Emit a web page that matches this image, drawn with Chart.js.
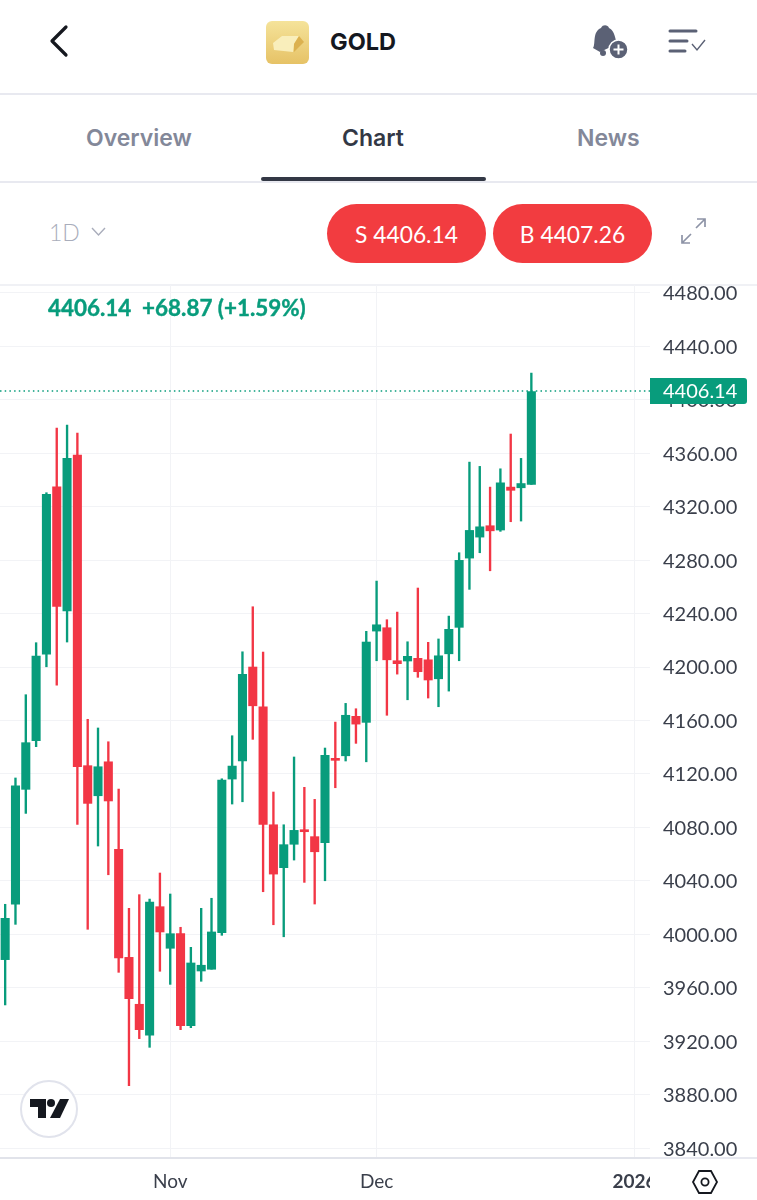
<!DOCTYPE html>
<html>
<head>
<meta charset="utf-8">
<title>GOLD</title>
<script src="https://cdn.jsdelivr.net/npm/chart.js@4"></script>
<style>
  * { box-sizing: border-box; }
  html, body { margin: 0; padding: 0; background: #fff; }
  body { position: relative; width: 757px; height: 1200px; overflow: hidden; font-family: Inter, "Noto Sans", sans-serif; }
  .abs { position: absolute; }
  .rule { position: absolute; left: 0; width: 757px; height: 2px; background: #e8e9f0; }
  .title { left: 330px; top: 28px; font-size: 23.5px; font-weight: 700; color: #15181f; line-height: 28px; }
  .tab { top: 124px; font-size: 23px; font-weight: 600; line-height: 28px; color: #838899; }
  .tab.active { color: #333845; }
  .underline { left: 261px; top: 177px; width: 225px; height: 4px; border-radius: 2px; background: #333845; }
  .pill { top: 204px; width: 159px; height: 59px; border-radius: 30px; background: #f23c40; color: #fff; font-family: Lato, sans-serif; font-size: 22.8px; line-height: 60px; text-align: center; }
  .period { left: 49px; top: 219px; font-family: Lato, sans-serif; font-size: 23px; font-weight: 300; line-height: 26px; color: #a9adbb; }
  .quote { left: 48px; top: 295px; font-family: Lato, sans-serif; font-size: 22.4px; font-weight: 700; -webkit-text-stroke: 0.4px #089c7c; color: #089c7c; line-height: 26px; white-space: pre; }
  #chartBox { position: absolute; left: 0; top: 285px; width: 757px; height: 915px; }
  .corner { left: 650px; top: 1160px; width: 107px; height: 40px; background: #fff; }
  .tvbadge { left: 20px; top: 1080px; width: 58px; height: 58px; border-radius: 50%; background: #fff; border: 2px solid #e1e3ec; }
</style>
</head>
<body>
<svg class="abs" style="left:46px;top:24px" width="26" height="34" viewBox="0 0 26 34"><path d="M20 3 L6 17 L20 31" fill="none" stroke="#15181f" stroke-width="3.2" stroke-linecap="round" stroke-linejoin="round"/></svg>
<svg class="abs" style="left:266px;top:21px" width="43" height="43" viewBox="0 0 43 43">
  <defs><linearGradient id="gold" x1="0" y1="0" x2="0" y2="1"><stop offset="0" stop-color="#f5e39a"/><stop offset="1" stop-color="#e6c266"/></linearGradient></defs>
  <rect width="43" height="43" rx="6" fill="url(#gold)"/>
  <path d="M7 22 L16 15 L33 15 L28 23 L27 31 L8 29 Z" fill="#f9eebb"/>
  <path d="M33 15 L38 21 L28 31 L28 23 Z" fill="#dcb14f"/>
</svg>
<div class="abs title">GOLD</div>
<svg class="abs" style="left:590px;top:24px" width="40" height="36" viewBox="0 0 40 36">
  <path d="M3 24 C6 20 2 8 11 4 C13 0 18 1 19 4 C25 7 25 15 27 20 L10 28 Z" fill="#5b6175"/>
  <circle cx="13" cy="29" r="3" fill="#5b6175"/>
  <circle cx="28.5" cy="25.5" r="9.5" fill="#5b6175" stroke="#fff" stroke-width="1.5"/>
  <path d="M28.5 20.5 V30.5 M23.5 25.5 H33.5" stroke="#fff" stroke-width="2"/>
</svg>
<svg class="abs" style="left:667px;top:28px" width="40" height="28" viewBox="0 0 40 28">
  <path d="M3 3 H29 M3 13 H20 M3 23 H18" stroke="#5b6175" stroke-width="3" stroke-linecap="round"/>
  <path d="M25 16 L30 22 L38 12" fill="none" stroke="#5b6175" stroke-width="1.4"/>
</svg>
<div class="rule" style="top:93px"></div>
<div class="abs tab" style="left:86px">Overview</div>
<div class="abs tab active" style="left:342px">Chart</div>
<div class="abs tab" style="left:577px">News</div>
<div class="rule" style="top:181px"></div>
<div class="abs underline"></div>
<div class="abs period">1D</div>
<svg class="abs" style="left:91px;top:227px" width="15" height="10" viewBox="0 0 15 10"><path d="M1 1 L7.5 8 L14 1" fill="none" stroke="#a9adbb" stroke-width="1.4"/></svg>
<div class="abs pill" style="left:327px">S 4406.14</div>
<div class="abs pill" style="left:493px">B 4407.26</div>
<svg class="abs" style="left:680px;top:217px" width="27" height="28" viewBox="0 0 27 28">
  <path d="M16 11 L25 2 M17 2 H25 V10 M11 17 L2 26 M2 18 V26 H10" fill="none" stroke="#8d93a6" stroke-width="1.7"/>
</svg>
<div class="rule" style="top:284px;background:#f0f1f5"></div>
<div id="chartBox"><canvas id="goldChart"></canvas></div>
<div class="abs quote">4406.14  +68.87 (+1.59%)</div>
<div class="abs tvbadge"></div>
<svg class="abs" style="left:30px;top:1099px" width="39" height="20" viewBox="0 0 39 20" fill="#15181f">
  <path d="M0 0 H16 V19 H8 V8 H0 Z"/><circle cx="21" cy="4" r="4"/><path d="M30 0 H39 L30 19 H20 Z"/>
</svg>
<div class="rule" style="top:1157px;left:650px;width:107px;background:#e8e9f0"></div>
<div class="abs corner"></div>
<svg class="abs" style="left:691px;top:1168px" width="28" height="28" viewBox="0 0 28 28">
  <path d="M8 3 H20 L26 14 L20 25 H8 L2 14 Z" fill="none" stroke="#15181f" stroke-width="1.8"/>
  <circle cx="14" cy="14" r="3.6" fill="none" stroke="#15181f" stroke-width="1.8"/>
</svg>
<script>
const green = '#089c7c';
const red = '#f23645';
const gridColor = '#f2f3f6';
const axisFont = 'Lato, "Noto Sans", sans-serif';

const categories = [
  '10-10', '10-13', '10-14', '10-15', '10-16', '10-17', '10-20', '10-21', '10-22', '10-23', '10-24',
  '10-27', '10-28', '10-29', '10-30', '10-31', '11-03', '11-04', '11-05', '11-06', '11-07',
  '11-10', '11-11', '11-12', '11-13', '11-14', '11-17', '11-18', '11-19', '11-20', '11-21',
  '11-24', '11-25', '11-26', '11-27', '11-28', '12-01', '12-02', '12-03', '12-04', '12-05',
  '12-08', '12-09', '12-10', '12-11', '12-12', '12-15', '12-16', '12-17', '12-18', '12-19', '12-22',
  '12-23', '12-24', '12-25', '12-26', '12-29', '12-30', '12-31', '01-01', '01-02', '01-05', '01-06'
];

const opens = [
  3981.1, 4022.5, 4108.5, 4144.9, 4209.7, 4334.9, 4241.9, 4358.6, 4126.2, 4103.7, 4129.1,
  4063.6, 3982.8, 3947.7, 3924.5, 4020.7, 3989.6, 4000.5, 3931.7, 3972.6, 3973.9,
  4001.2, 4116.2, 4129.7, 4200.0, 4170.3, 4082.0, 4049.9, 4067.4, 4078.1, 4073.1,
  4068.6, 4131.7, 4133.6, 4163.1, 4158.6, 4226.9, 4229.4, 4204.7, 4204.5, 4206.5,
  4205.4, 4191.2, 4209.9, 4229.7, 4281.5, 4297.2, 4305.7, 4302.5, 4334.6, 4334.1, 4336.6
];
const highs = [
  4022.5, 4117.0, 4179.3, 4218.2, 4330.4, 4378.8, 4381.0, 4375.0, 4160.9, 4154.4, 4144.1,
  4108.7, 4019.5, 4029.7, 4026.4, 4045.9, 4030.2, 4005.3, 3990.3, 4019.5, 4027.0,
  4116.4, 4148.6, 4211.4, 4245.1, 4211.2, 4106.5, 4082.0, 4132.7, 4110.0, 4101.0,
  4139.4, 4158.8, 4172.8, 4168.8, 4226.7, 4264.3, 4235.4, 4241.1, 4218.9, 4259.1,
  4218.5, 4221.0, 4238.1, 4285.5, 4353.3, 4350.1, 4334.6, 4348.3, 4374.3, 4356.1, 4419.9
];
const lows = [
  3947.2, 4007.5, 4090.5, 4140.4, 4200.2, 4186.5, 4218.7, 4082.3, 4003.8, 4066.1, 4044.6,
  3971.6, 3886.8, 3922.0, 3915.5, 3972.4, 3962.6, 3928.7, 3930.2, 3964.9, 3973.9,
  3999.3, 4097.5, 4099.2, 4145.9, 4031.9, 4007.2, 3998.2, 4055.6, 4038.9, 4022.7,
  4040.1, 4109.7, 4129.7, 4142.9, 4129.1, 4204.7, 4163.9, 4194.7, 4175.5, 4192.3,
  4176.8, 4170.3, 4182.0, 4204.7, 4258.1, 4285.5, 4272.0, 4301.5, 4308.7, 4309.2, 4336.6
];
const closes = [
  4012.0, 4111.2, 4143.4, 4208.2, 4329.2, 4245.4, 4356.1, 4125.4, 4098.0, 4125.4, 4099.8,
  3982.3, 3951.9, 3928.7, 4024.2, 4001.8, 4000.5, 3931.7, 3978.6, 3976.9, 4001.8,
  4115.5, 4125.9, 4194.5, 4171.0, 4082.3, 4045.1, 4067.1, 4077.8, 4076.8, 4061.8,
  4133.9, 4130.2, 4163.9, 4157.3, 4218.7, 4231.6, 4205.4, 4202.5, 4208.0, 4196.5,
  4190.3, 4208.4, 4228.2, 4279.8, 4302.2, 4304.9, 4301.9, 4337.8, 4332.2, 4337.27, 4406.14
];

const priceTicks = [3840, 3880, 3920, 3960, 4000, 4040, 4080, 4120, 4160, 4200, 4240, 4280, 4320, 4360, 4400, 4440, 4480];
const monthLabels = ['Nov', 'Dec', '2026'];
const monthPositions = [16, 36, 61];
const lastPrice = 4406.14;

const candleColors = opens.map((open, i) => (closes[i] >= open ? green : red));

// dotted last price line and the green tag on the price axis
const lastPricePlugin = {
  id: 'lastPrice',
  afterDraw(chart) {
    const { ctx, chartArea, scales } = chart;
    const y = Math.round(scales.y.getPixelForValue(lastPrice));
    ctx.save();
    ctx.strokeStyle = green;
    ctx.lineWidth = 1.5;
    ctx.setLineDash([1.5, 3.2]);
    ctx.beginPath();
    ctx.moveTo(chartArea.left, y);
    ctx.lineTo(chartArea.right, y);
    ctx.stroke();
    ctx.setLineDash([]);
    ctx.fillStyle = green;
    ctx.beginPath();
    ctx.roundRect(chartArea.right, y - 13, 97, 26, [0, 3, 3, 0]);
    ctx.fill();
    ctx.fillStyle = '#fff';
    ctx.font = '20px ' + axisFont;
    ctx.textBaseline = 'middle';
    ctx.fillText(lastPrice.toFixed(2), 663, y + 1);
    ctx.restore();
  }
};

new Chart(document.getElementById('goldChart'), {
  type: 'bar',
  plugins: [lastPricePlugin],
  data: {
    labels: categories,
    datasets: [
      {
        label: 'Body',
        data: opens.map((open, i) => [open, closes[i]]),
        backgroundColor: candleColors,
        barThickness: 8.4,
        minBarLength: 2,
        grouped: false,
        order: 1
      },
      {
        label: 'Wick',
        data: lows.map((low, i) => [low, highs[i]]),
        backgroundColor: candleColors,
        barThickness: 1.7,
        grouped: false,
        order: 2
      }
    ]
  },
  options: {
    responsive: true,
    maintainAspectRatio: false,
    animation: false,
    layout: { padding: 0 },
    plugins: { legend: { display: false }, tooltip: { enabled: false } },
    scales: {
      x: {
        offset: true,
        afterFit(scale) {
          scale.height = 42;
          scale.paddingLeft = 0;
          scale.paddingRight = 0;
        },
        afterBuildTicks(scale) { scale.ticks = monthPositions.map(value => ({ value })); },
        grid: { color: gridColor, drawTicks: false, offset: false },
        border: { color: '#e1e3ea', width: 2 },
        ticks: {
          autoSkip: false,
          maxRotation: 0,
          padding: 12,
          color: '#3a3f4b',
          font: ctx => ({ family: axisFont, size: 19, weight: ctx.index === 2 ? '700' : '400' }),
          callback: (value, index) => monthLabels[index]
        }
      },
      y: {
        position: 'right',
        min: 3832.7,
        max: 4485.8,
        afterFit(scale) {
          scale.width = 107;
          scale.paddingTop = 0;
          scale.paddingBottom = 0;
        },
        afterBuildTicks(scale) { scale.ticks = priceTicks.map(value => ({ value })); },
        grid: { color: gridColor, drawTicks: false },
        border: { display: false },
        ticks: {
          padding: 13,
          labelOffset: 1,
          color: '#3a3f4b',
          font: { family: axisFont, size: 20 },
          callback: value => value.toFixed(2)
        }
      }
    }
  }
});
</script>
</body>
</html>
